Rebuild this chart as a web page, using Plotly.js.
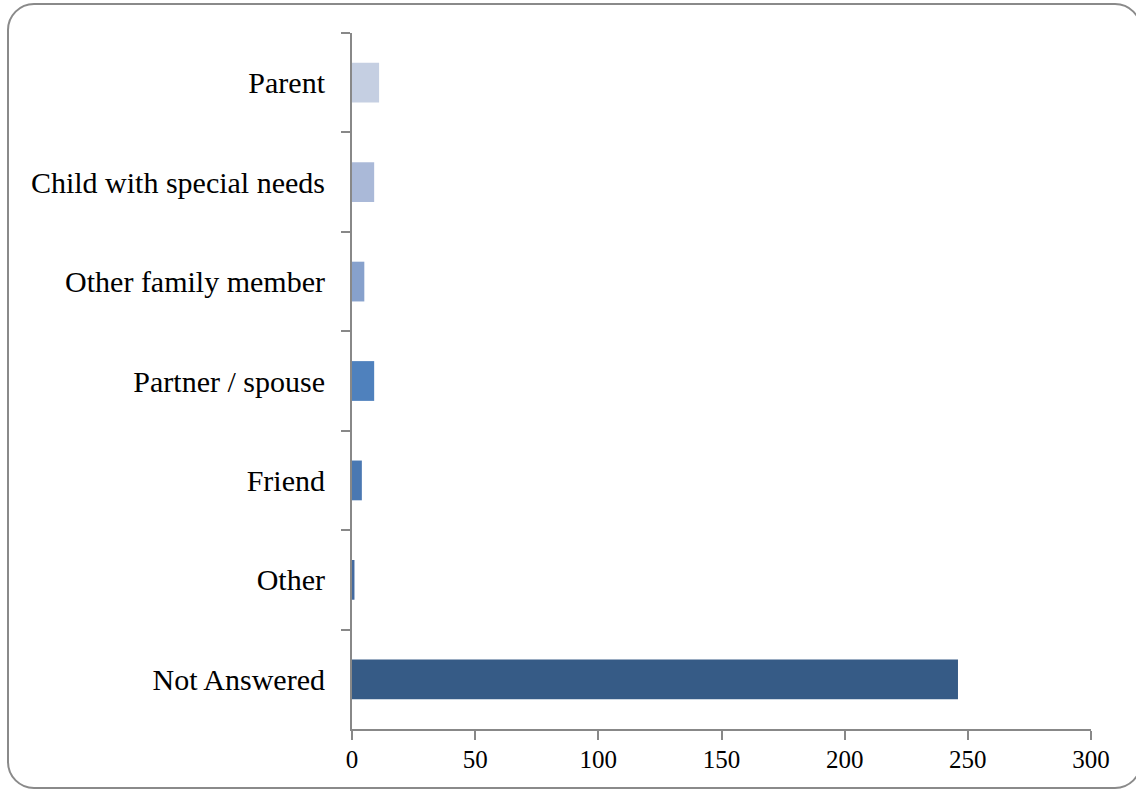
<!DOCTYPE html>
<html><head><meta charset="utf-8">
<script src="https://cdn.plot.ly/plotly-3.0.1.min.js"></script>
<style>
html,body{margin:0;padding:0;background:#fff;overflow:hidden;}
#frame{position:absolute;left:7px;top:3px;width:1135px;height:786px;border:2px solid #8a8a8a;border-radius:27px;box-sizing:border-box;}
#chart{position:absolute;left:0;top:0;width:1136px;height:789px;}
</style>
</head><body>
<div id="frame"></div>
<div id="chart"></div>
<script>
const categories = ["Parent", "Child with special needs", "Other family member", "Partner / spouse", "Friend", "Other", "Not Answered"];
const values = [11, 9, 5, 9, 4, 1, 246];
const barColors = ["#c5cfe2", "#aab9d8", "#87a1cc", "#4f81bd", "#4a78b2", "#436aa0", "#365b86"];
const xTicks = [0, 50, 100, 150, 200, 250, 300];

const trace = {
  type: "bar", orientation: "h",
  y: categories, x: values,
  marker: {color: barColors},
  width: 0.4,
  hoverinfo: "x+y"
};
const layout = {
  width: 1136, height: 789,
  margin: {l: 352, r: 45, t: 33, b: 60, pad: 0},
  paper_bgcolor: "rgba(0,0,0,0)", plot_bgcolor: "rgba(0,0,0,0)",
  showlegend: false,
  font: {family: "Liberation Serif, Times New Roman, serif", color: "#000"},
  xaxis: {
    range: [0, 300], tickvals: xTicks, ticktext: xTicks.map(String),
    showgrid: false, zeroline: false,
    showline: true, linecolor: "#888", linewidth: 2,
    ticks: "outside", ticklen: 9, tickwidth: 2, tickcolor: "#888",
    ticklabelstandoff: -2,
    tickfont: {size: 25}
  },
  yaxis: {
    categoryorder: "array", categoryarray: categories,
    autorange: "reversed",
    showgrid: false, zeroline: false,
    showline: true, linecolor: "#888", linewidth: 2,
    ticks: "outside", ticklen: 9, tickwidth: 2, tickcolor: "#888",
    tickson: "boundaries",
    ticklabelstandoff: 19,
    tickfont: {size: 30}
  }
};
Plotly.newPlot("chart", [trace], layout, {displayModeBar: false, staticPlot: true});
</script>
</body></html>
